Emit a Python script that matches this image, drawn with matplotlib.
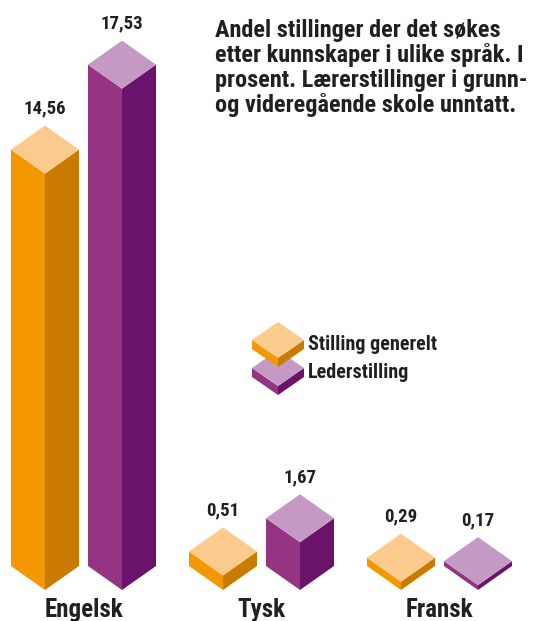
import matplotlib
matplotlib.use('Agg')
import matplotlib.pyplot as plt
from matplotlib.patches import Polygon

# data
categories = ['Engelsk', 'Tysk', 'Fransk']
generelt = [14.56, 0.51, 0.29]
leder = [17.53, 1.67, 0.17]
series_names = ['Stilling generelt', 'Lederstilling']
title_lines = ['Andel stillinger der det søkes',
               'etter kunnskaper i ulike språk. I',
               'prosent. Lærerstillinger i grunn-',
               'og videregående skole unntatt.']

# colours: front, side, top
orange = ('#F39800', '#C87B00', '#FBCB8E')
purple = ('#943483', '#69136B', '#C49AC4')

fam = ['Roboto Condensed', 'DejaVu Sans']
ink = '#231F20'

W, H = 536, 621
PX = 28.6          # pixels per percent
BASE = 590         # pixel row of value 0
fig = plt.figure(figsize=(W / 100, H / 100), dpi=100)

# axes in value units
ax = fig.add_axes([0, 0, 1, 1])
ax.set_xlim(0, W)
ax.set_ylim(-(H - BASE) / PX, BASE / PX)
ax.axis('off')

# overlay axes in pixel units for title and legend
ov = fig.add_axes([0, 0, 1, 1], facecolor='none')
ov.set_xlim(0, W)
ov.set_ylim(H, 0)
ov.axis('off')


def box(a, c, h, w, d, cols, z=2):
    front, side, top = cols
    a.add_patch(Polygon([(c - w, d), (c, 0), (c, h), (c - w, h + d)], closed=True,
                        fc=front, ec='none', zorder=z))
    a.add_patch(Polygon([(c, 0), (c + w, d), (c + w, h + d), (c, h)], closed=True,
                        fc=side, ec='none', zorder=z))
    a.add_patch(Polygon([(c, h), (c - w, h + d), (c, h + 2 * d), (c + w, h + d)], closed=True,
                        fc=top, ec='none', zorder=z))


centers = [83.5, 261.5, 439.5]
off = 38.5
hw = 34
dd = 24 / PX
for i, cat in enumerate(categories):
    for v, sgn, cols in [(generelt[i], -1, orange), (leder[i], 1, purple)]:
        c = centers[i] + sgn * off
        box(ax, c, v, hw, dd, cols)
        ax.text(c, v + 2 * dd + 12 / PX, f'{v:.2f}'.replace('.', ','), ha='center', va='baseline',
                fontsize=13.5, fontweight='bold', family=fam, color=ink)
    ax.text(centers[i], -(617 - BASE) / PX, cat, ha='center', va='baseline',
            fontsize=18, fontweight='bold', family=fam, color=ink)

for k, line in enumerate(title_lines):
    ov.text(215, 37 + 25 * k, line, ha='left', va='baseline', fontsize=17.5, fontweight='bold',
            family=fam, color=ink)

# legend icons (pixel units, y down)
def icon(cx, top_y, cols):
    w, d, t = 26, 18, 9
    front, side, topc = cols
    ov.add_patch(Polygon([(cx - w, top_y + d), (cx, top_y + 2 * d), (cx, top_y + 2 * d + t),
                          (cx - w, top_y + d + t)], fc=front, ec='none'))
    ov.add_patch(Polygon([(cx, top_y + 2 * d), (cx + w, top_y + d), (cx + w, top_y + d + t),
                          (cx, top_y + 2 * d + t)], fc=side, ec='none'))
    ov.add_patch(Polygon([(cx, top_y), (cx + w, top_y + d), (cx, top_y + 2 * d),
                          (cx - w, top_y + d)], fc=topc, ec='none'))


icon(278, 350, purple)
icon(278, 322, orange)
ov.text(308, 350, series_names[0], ha='left', va='baseline', fontsize=14.5, fontweight='bold',
        family=fam, color=ink)
ov.text(308, 378, series_names[1], ha='left', va='baseline', fontsize=14.5, fontweight='bold',
        family=fam, color=ink)

fig.savefig('out.png', dpi=100)
